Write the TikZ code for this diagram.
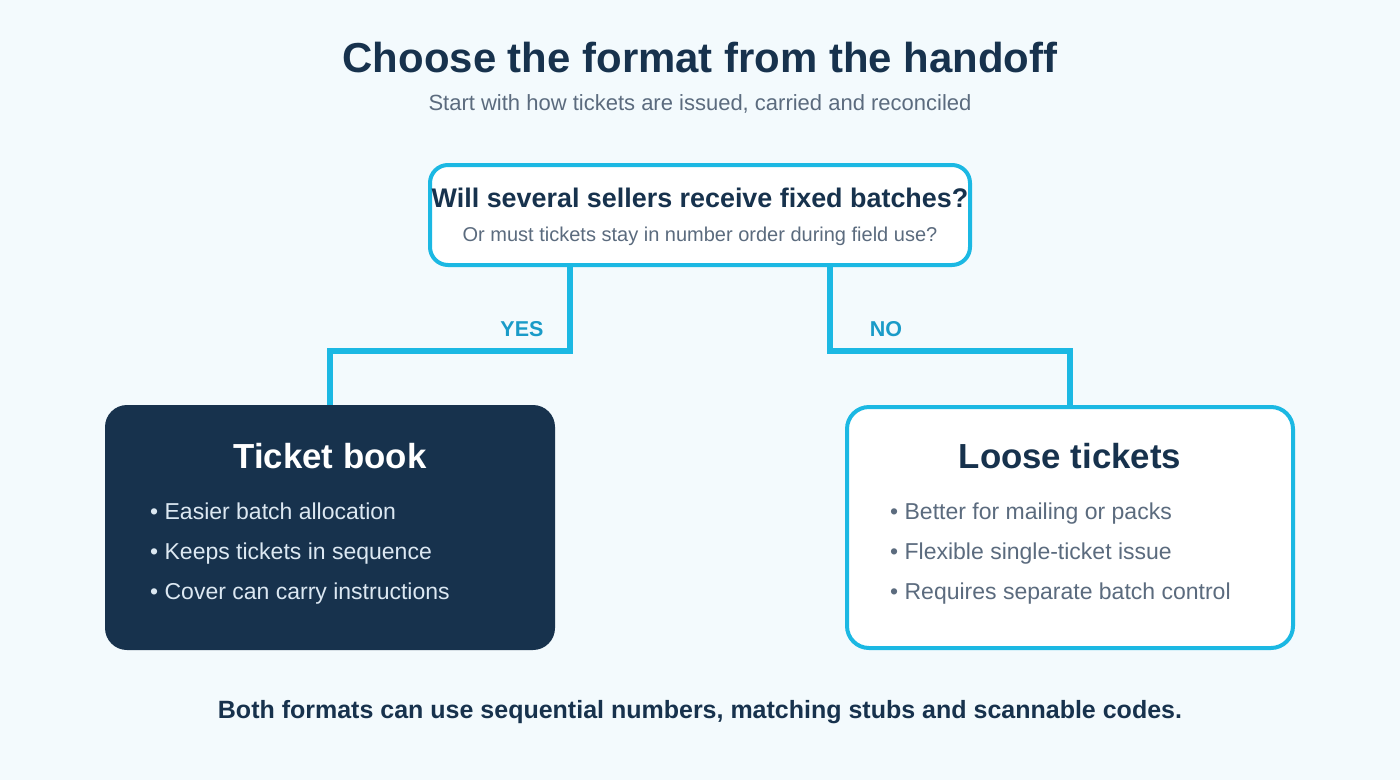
\documentclass[tikz,border=0pt]{standalone}
\usepackage{fontspec}
\setmainfont{Liberation Sans}
\usetikzlibrary{positioning, calc}
\definecolor{cnavy}{HTML}{17324D}
\definecolor{ccyan}{HTML}{1BB8E3}
\definecolor{clabel}{HTML}{1A9BC8}
\definecolor{cgrey}{HTML}{5B6B7E}
\definecolor{cpale}{HTML}{DCE8F2}
\definecolor{cbg}{HTML}{F3FAFD}
\tikzset{
  every picture/.style={x=1pt, y=-1pt},
  qbox/.style={draw=ccyan, fill=white, line width=4pt, rounded corners=18pt, minimum width=540pt, minimum height=100pt},
  darkbox/.style={fill=cnavy, rounded corners=22pt, minimum width=450pt, minimum height=245pt},
  lightbox/.style={draw=ccyan, fill=white, line width=4pt, rounded corners=22pt, minimum width=446pt, minimum height=241pt},
  link/.style={draw=ccyan, line width=6pt},
  branch/.style={font=\fontsize{21.5}{24}\selectfont\bfseries, text=clabel, inner sep=0pt},
  boxtitle/.style={font=\fontsize{34.8}{40}\selectfont\bfseries, inner sep=0pt},
  bullets/.style={font=\fontsize{23}{40}\selectfont, align=left, inner sep=0pt, anchor=west},
}
\begin{document}
\begin{tikzpicture}
  % canvas
  \fill[cbg] (0,0) rectangle (1400,780);
  \useasboundingbox (0,0) rectangle (1400,780);
  % heading
  \node[font=\fontsize{41.9}{48}\selectfont\bfseries, text=cnavy, inner sep=0pt] (title) at (700,58) {Choose the format from the handoff};
  \node[font=\fontsize{22}{26}\selectfont, text=cgrey, inner sep=0pt] (sub) at (700,104) {Start with how tickets are issued, carried and reconciled};
  % question
  \node[qbox] (q) at (700,215) {};
  \node[font=\fontsize{26.9}{30}\selectfont\bfseries, text=cnavy, inner sep=0pt] (qmain) at (700,198) {Will several sellers receive fixed batches?};
  \node[font=\fontsize{20}{24}\selectfont, text=cgrey, inner sep=0pt] (qsub) at (700,236) {Or must tickets stay in number order during field use?};
  % answers
  \node[darkbox] (book) at (330,527.5) {};
  \node[lightbox] (loose) at (1070,527.5) {};
  \node[boxtitle, text=white] (booktitle) at (330,456) {Ticket book};
  \node[boxtitle, text=cnavy] (loosetitle) at (1070,456) {Loose tickets};
  \node[bullets, text=cpale] (booklist) at (150,554) {• Easier batch allocation\\• Keeps tickets in sequence\\• Cover can carry instructions};
  \node[bullets, text=cgrey] (looselist) at (890,554) {• Better for mailing or packs\\• Flexible single-ticket issue\\• Requires separate batch control};
  % branches
  \draw[link] ([xshift=-130pt]q.south) -- ++(0,84) coordinate (yesbend) -| (book.north);
  \draw[link] ([xshift=130pt]q.south) -- ++(0,84) coordinate (nobend) -| (loose.north);
  \node[branch] (yes) at ($(yesbend)+(-48,-22)$) {YES};
  \node[branch] (no) at ($(nobend)+(56,-22)$) {NO};
  % footer
  \node[font=\fontsize{25}{30}\selectfont\bfseries, text=cnavy, inner sep=0pt] (foot) at (700,712) {Both formats can use sequential numbers, matching stubs and scannable codes.};
\end{tikzpicture}
\end{document}
